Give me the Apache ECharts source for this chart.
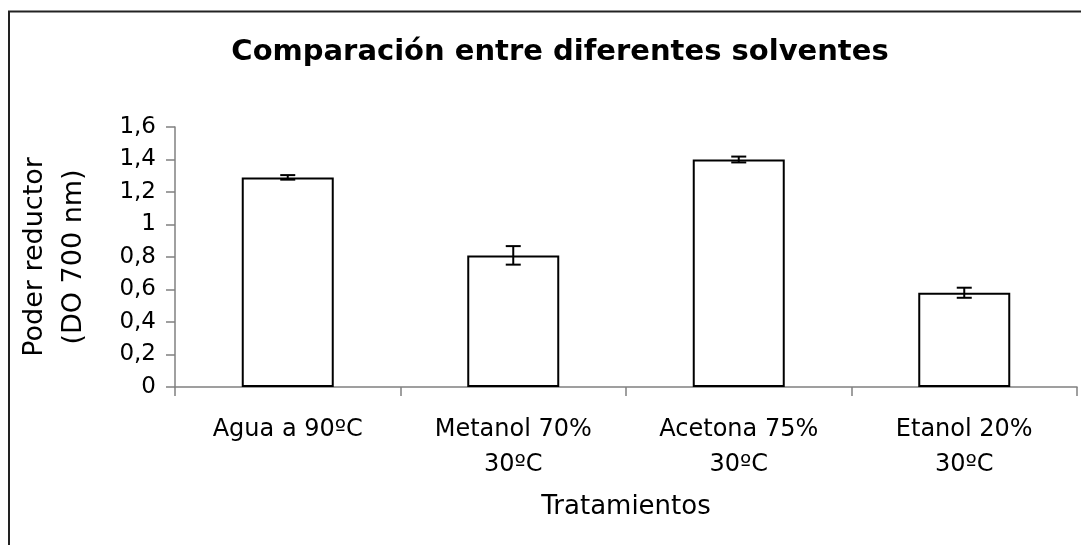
<!DOCTYPE html>
<html>
<head>
<meta charset="utf-8">
<script src="https://cdn.jsdelivr.net/npm/echarts@6/dist/echarts.min.js"></script>
<style>
    html, body { margin: 0; padding: 0; background: #fff; }
    #chart { width: 1081px; height: 545px; }
</style>
</head>
<body>
<div id="chart"></div>
<script>
// datos
var categorias = ['Agua a 90ºC', 'Metanol 70%\n30ºC', 'Acetona 75%\n30ºC', 'Etanol 20%\n30ºC'];
var valores = [1.29, 0.81, 1.40, 0.58];
var errores = [0.014, 0.057, 0.018, 0.031];

var chart = echarts.init(document.getElementById('chart'));

var datosError = [];
for (var i = 0; i < valores.length; i++) {
    datosError.push([i, valores[i] - errores[i], valores[i] + errores[i]]);
}

function formatoComa(v) {
    return String(Math.round(v * 10) / 10).replace('.', ',');
}

var option = {
    backgroundColor: '#fff',
    animation: false,
    textStyle: { fontFamily: 'DejaVu Sans', color: '#000' },
    title: {
        text: 'Comparación entre diferentes solventes',
        left: 555,
        top: 33,
        textAlign: 'center',
        textStyle: { fontFamily: 'DejaVu Sans', fontSize: 29, fontWeight: 'bold', color: '#000' }
    },
    graphic: [{
        type: 'rect',
        shape: { x: 9, y: 11.5, width: 1100, height: 560 },
        style: { fill: null, stroke: '#222', lineWidth: 2 },
        silent: true
    }],
    grid: { left: 175, right: 4, top: 127, bottom: 158, containLabel: false, outerBoundsMode: 'none' },
    xAxis: {
        type: 'category',
        data: categorias,
        name: 'Tratamientos',
        nameLocation: 'middle',
        nameGap: 107,
        nameTextStyle: { fontSize: 26, color: '#000' },
        axisLine: { lineStyle: { color: '#808080', width: 1.5 } },
        axisTick: { show: true, length: 9, lineStyle: { color: '#808080', width: 1.5 } },
        axisLabel: { fontSize: 24, color: '#000', margin: 25, lineHeight: 35 }
    },
    yAxis: {
        type: 'value',
        min: 0,
        max: 1.6,
        interval: 0.2,
        name: 'Poder reductor\n(DO 700 nm)',
        nameLocation: 'middle',
        nameGap: 82,
        nameTextStyle: { fontSize: 27, color: '#000', lineHeight: 39 },
        axisLine: { show: true, lineStyle: { color: '#808080', width: 1.5 } },
        axisTick: { show: true, length: 9, lineStyle: { color: '#808080', width: 1.5 } },
        splitLine: { show: false },
        axisLabel: { fontSize: 23, color: '#000', margin: 19, formatter: formatoComa }
    },
    series: [{
        type: 'bar',
        data: valores,
        barWidth: 92,
        itemStyle: { color: '#fff', borderColor: '#000', borderWidth: 2 }
    }, {
        type: 'custom',
        data: datosError,
        z: 10,
        renderItem: function (params, api) {
            var x = api.value(0);
            var bajo = api.coord([x, api.value(1)]);
            var alto = api.coord([x, api.value(2)]);
            var cap = 7.5;
            var estilo = { stroke: '#000', lineWidth: 2 };
            return {
                type: 'group',
                children: [
                    { type: 'line', shape: { x1: alto[0], y1: alto[1], x2: bajo[0], y2: bajo[1] }, style: estilo },
                    { type: 'line', shape: { x1: alto[0] - cap, y1: alto[1], x2: alto[0] + cap, y2: alto[1] }, style: estilo },
                    { type: 'line', shape: { x1: bajo[0] - cap, y1: bajo[1], x2: bajo[0] + cap, y2: bajo[1] }, style: estilo }
                ]
            };
        }
    }]
};

chart.setOption(option);
</script>
</body>
</html>
